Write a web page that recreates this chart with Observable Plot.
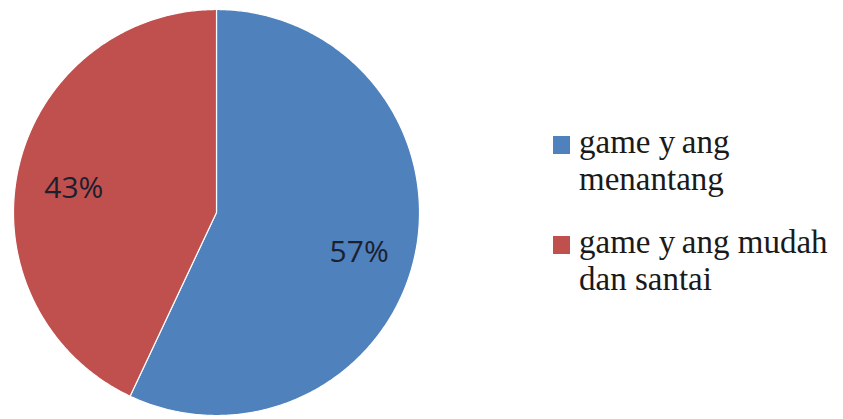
<!DOCTYPE html>
<html>
<head>
<meta charset="utf-8">
<script src="https://cdn.jsdelivr.net/npm/d3@7"></script>
<script src="https://cdn.jsdelivr.net/npm/@observablehq/plot@0.6"></script>
<style>
  html, body { margin: 0; padding: 0; background: #fff; }
  #wrap { position: relative; width: 843px; height: 419px; }
  #legend { position: absolute; left: 553px; top: 0; font-size: 33px; color: #1a1a1a; }
  .item { position: absolute; left: 0; width: 290px; }
  .sw { position: absolute; left: 0; width: 17px; height: 18px; }
  .lbl { position: absolute; left: 26px; line-height: 37px; white-space: nowrap; }
</style>
</head>
<body>
<div id="wrap"><div id="chart"></div><div id="legend"></div></div>
<script>
const categories = ["game yang menantang", "game yang mudah dan santai"];
const legendLines = [["game y\u2009ang", "menantang"], ["game y\u2009ang mudah", "dan santai"]];
const values = [57, 43];
const colors = ["#4f81bd", "#c0504d"];

const total = d3.sum(values);
const slices = [];
const labels = [];
let start = 0;
values.forEach((v, i) => {
  const a0 = start / total * 2 * Math.PI;
  const a1 = (start + v) / total * 2 * Math.PI;
  slices.push({cat: categories[i], x: 0, y: 0});
  const n = Math.max(2, Math.ceil((a1 - a0) / (Math.PI / 360)));
  for (let k = 0; k <= n; k++) {
    const a = a0 + (a1 - a0) * k / n;
    slices.push({cat: categories[i], x: Math.sin(a), y: Math.cos(a)});
  }
  const am = (a0 + a1) / 2;
  labels.push({text: Math.round(v / total * 100) + "%", x: 0.72 * Math.sin(am), y: 0.72 * Math.cos(am)});
  start += v;
});

const chart = Plot.plot({
  width: 843,
  height: 419,
  margin: 0,
  x: {domain: [-1, 1], range: [13, 419], axis: null},
  y: {domain: [-1, 1], range: [415, 9], axis: null},
  color: {domain: categories, range: colors},
  marks: [
    Plot.line(slices, {x: "x", y: "y", z: "cat", fill: "cat", stroke: "#ffffff", strokeWidth: 1.2, curve: "linear-closed"}),
    Plot.text(labels, {x: "x", y: "y", text: "text", dy: 8, fontSize: 30, fill: "#1c1f2e", fontFamily: "'Open Sans', 'Liberation Sans', sans-serif"})
  ]
});
document.getElementById("chart").appendChild(chart);

const legend = document.getElementById("legend");
const tops = [136, 236];
categories.forEach((c, i) => {
  const item = document.createElement("div");
  item.className = "item";
  item.style.top = tops[i] + "px";
  const sw = document.createElement("div");
  sw.className = "sw";
  sw.style.background = colors[i];
  item.appendChild(sw);
  const lbl = document.createElement("div");
  lbl.className = "lbl";
  lbl.style.top = "-12px";
  lbl.style.fontFamily = "'Liberation Serif', 'DejaVu Serif', serif";
  lbl.innerHTML = legendLines[i].join("<br>");
  item.appendChild(lbl);
  legend.appendChild(item);
});
</script>
</body>
</html>
